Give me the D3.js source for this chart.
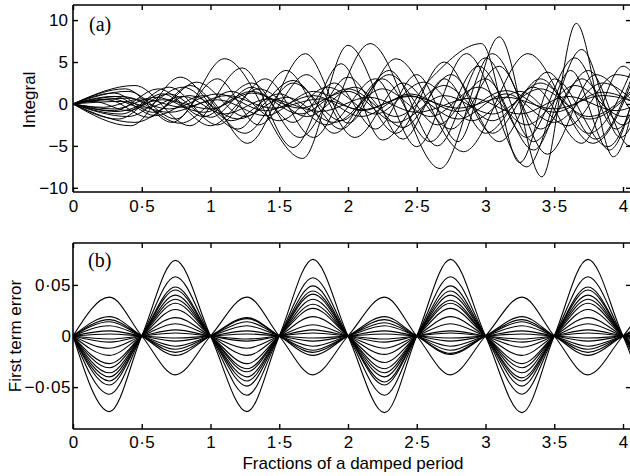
<!DOCTYPE html>
<html><head><meta charset="utf-8">
<script src="https://cdn.jsdelivr.net/npm/d3@7"></script>
<style>body{margin:0;background:#fff} svg{display:block}</style>
</head><body>
<svg id="c" width="630" height="476"></svg>
<script>
// ---------- data ----------
const xTicks = [0,0.5,1,1.5,2,2.5,3,3.5,4];
const xTickLabels = ["0","0·5","1","1·5","2","2·5","3","3·5","4"];
const yTicksA = [-10,-5,0,5,10];
const yTickLabelsA = ["−10","−5","0","5","10"];
const yTicksB = [-0.05,0,0.05];
const yTickLabelsB = ["−0·05","0","0·05"];

// panel (a): turning points [x, integral] of each run
const integralRuns = [
 [[0,0],[0.15,0.3],[0.4,-0.8],[0.7,1.2],[1.0,-1.6],[1.3,2.0],[1.6,-2.2],[1.9,2.5],[2.2,-3.0],[2.5,3.5],[2.8,-4.5],[3.1,8.0],[3.41,-8.7],[3.66,9.6],[3.93,-6.3],[4.15,6]],
 [[0,0],[0.4,1.5],[0.75,-1.8],[1.1,5.4],[1.67,-6.5],[2.0,7.0],[2.4,-4.2],[2.7,3.0],[3.0,-3.5],[3.35,2.0],[3.7,-4.7],[4.0,4.5],[4.2,-1]],
 [[0,0],[0.35,-1.2],[0.7,2.0],[1.05,-2.5],[1.4,3.0],[1.75,-4.0],[2.16,7.2],[2.67,-7.7],[3.05,6.0],[3.4,-3.0],[3.75,4.0],[4.05,-5.0],[4.25,0]],
 [[0,0],[0.3,0.9],[0.6,-1.4],[0.95,1.0],[1.27,-4.7],[1.69,6.0],[2.0,-2.3],[2.35,5.4],[2.84,-5.7],[3.31,6.0],[3.78,-4.7],[4.15,6.5]],
 [[0,0],[0.45,2.2],[0.85,-2.6],[1.23,4.3],[1.6,-5.2],[1.95,4.8],[2.25,-4.3],[2.6,3.0],[2.97,7.2],[3.25,-7.0],[3.5,3.0],[3.89,-5.1],[4.15,5]],
 [[0,0],[0.42,-2.6],[0.78,3.2],[1.15,-2.0],[1.5,1.2],[1.85,-2.5],[2.2,3.0],[2.5,-5.1],[2.86,6.0],[3.3,-7.5],[3.62,4.0],[3.9,-5.5],[4.15,6]],
 [[0,0],[0.3,-0.6],[0.6,0.8],[0.95,-1.0],[1.3,1.5],[1.65,-1.2],[2.0,1.8],[2.35,-1.5],[2.7,2.2],[3.05,-2.0],[3.4,2.5],[3.75,-1.8],[4.1,2.0]],
 [[0,0],[0.25,0.5],[0.55,-1.6],[0.85,2.2],[1.25,-3.5],[1.6,2.5],[1.95,-2.0],[2.3,3.5],[2.65,-2.5],[3.0,3.0],[3.35,-5.5],[3.7,6.5],[3.98,-4.0],[4.2,4]],
 [[0,0],[0.35,0.9],[0.7,-0.6],[1.05,1.2],[1.4,-0.8],[1.75,1.0],[2.1,-1.5],[2.45,1.2],[2.8,-0.9],[3.15,1.6],[3.5,-1.0],[3.85,1.4],[4.2,-1]],
 [[0,0],[0.4,-1.5],[0.8,2.0],[1.2,-3.0],[1.55,4.0],[1.9,-3.5],[2.25,3.0],[2.6,-4.5],[2.95,4.5],[3.3,-4.0],[3.65,5.5],[3.95,-3.0],[4.2,5]],
 [[0,0],[0.3,-0.8],[0.62,1.8],[0.95,-1.5],[1.3,2.5],[1.65,-4.0],[2.0,3.2],[2.35,-3.5],[2.7,5.0],[3.05,-3.5],[3.4,3.0],[3.75,-3.5],[4.1,5.5]],
 [[0,0],[0.38,1.8],[0.72,-2.2],[1.05,3.0],[1.35,-2.5],[1.7,3.5],[2.05,-4.0],[2.4,2.5],[2.75,-3.0],[3.1,4.5],[3.45,-6.0],[3.8,3.5],[4.1,-2]],
 [[0,0],[0.33,-1.8],[0.65,1.2],[1.0,-2.6],[1.35,1.8],[1.7,-1.5],[2.05,2.0],[2.4,-2.8],[2.75,3.5],[3.1,-4.5],[3.45,3.8],[3.8,-4.2],[4.1,4.8]],
 [[0,0],[0.28,0.6],[0.52,-0.5],[0.8,0.9],[1.1,-1.2],[1.42,0.6],[1.8,-0.9],[2.15,0.8],[2.5,-1.0],[2.9,0.7],[3.25,-1.2],[3.6,0.9],[3.95,-0.8],[4.2,1]],
 [[0,0],[0.45,-2.2],[0.85,1.0],[1.2,-1.8],[1.55,0.8],[1.9,-2.2],[2.25,1.8],[2.6,-1.5],[2.95,2.0],[3.3,-2.5],[3.65,2.2],[4.0,-1.5],[4.2,0]],
 [[0,0],[0.3,1.3],[0.58,-1.0],[0.9,2.6],[1.25,-1.5],[1.6,2.8],[1.95,-3.0],[2.3,4.0],[2.65,-5.0],[3.0,5.5],[3.35,-4.5],[3.7,3.0],[4.0,-2.5],[4.2,3]],
 [[0,0],[0.35,0.3],[0.7,-1.0],[1.05,0.5],[1.4,-1.4],[1.75,1.5],[2.1,-0.8],[2.45,1.0],[2.8,-1.8],[3.15,1.2],[3.5,-2.2],[3.85,2.5],[4.15,-1]],
 [[0,0],[0.4,0.7],[0.78,-2.3],[1.15,1.5],[1.5,-2.0],[1.85,2.0],[2.2,-1.2],[2.55,2.6],[2.9,-2.0],[3.25,1.5],[3.6,-2.6],[3.95,3.5],[4.2,2]],
 [[0,0],[0.22,-0.4],[0.5,0.6],[0.8,-0.4],[1.12,1.0],[1.45,-0.5],[1.8,0.6],[2.1,-0.7],[2.45,0.9],[2.8,-0.5],[3.15,0.8],[3.5,-0.6],[3.85,1.0],[4.2,-0.5]],
 [[0,0],[0.32,-0.9],[0.65,0.5],[1.0,-0.6],[1.3,1.3],[1.65,-0.5],[2.0,1.5],[2.35,-2.2],[2.7,1.0],[3.05,-1.2],[3.4,1.8],[3.75,-1.5],[4.1,2.2]]
];

// panel (b): zero crossings and lobe peaks
const errZeroX = [0,0.5,1,1.5,2,2.5,3,3.5,4,4.5];
const errPeakX = [0.265,0.745,1.265,1.745,2.265,2.745,3.265,3.745,4.265];
const errPeaks = [
 [-0.074,0.074,-0.074,0.075,-0.075,0.075,-0.075,0.075,-0.074],
 [-0.057,0.058,-0.058,0.057,-0.058,0.058,-0.057,0.058,-0.057],
 [-0.048,0.048,-0.049,0.049,-0.048,0.049,-0.049,0.048,-0.048],
 [-0.044,0.045,-0.044,0.044,-0.045,0.044,-0.044,0.045,-0.044],
 [-0.040,0.040,-0.040,0.041,-0.040,0.040,-0.041,0.040,-0.040],
 [-0.036,0.036,-0.035,0.036,-0.036,0.035,-0.036,0.036,-0.036],
 [-0.031,0.032,-0.032,0.031,-0.032,0.032,-0.031,0.032,-0.031],
 [-0.027,0.026,-0.027,0.027,-0.026,0.027,-0.027,0.026,-0.027],
 [-0.019,0.018,-0.019,0.019,-0.018,0.019,-0.019,0.018,-0.019],
 [-0.012,0.012,-0.012,0.011,-0.012,0.012,-0.011,0.012,-0.012],
 [-0.006,0.006,-0.005,0.006,-0.006,0.005,-0.006,0.006,-0.006],
 [-0.003,0.003,-0.003,0.003,-0.003,0.003,-0.003,0.003,-0.003],
 [0.002,-0.002,0.002,-0.002,0.002,-0.002,0.002,-0.002,0.002],
 [0.005,-0.005,0.005,-0.005,0.005,-0.005,0.005,-0.005,0.005],
 [0.010,-0.010,0.010,-0.010,0.010,-0.010,0.010,-0.010,0.010],
 [0.014,-0.013,0.014,-0.014,0.013,-0.014,0.014,-0.013,0.014],
 [0.016,-0.016,0.017,-0.016,0.016,-0.017,0.016,-0.016,0.016],
 [0.019,-0.019,0.018,-0.019,0.019,-0.018,0.019,-0.019,0.019],
 [0.038,-0.038,0.038,-0.038,0.038,-0.038,0.038,-0.038,0.038]
];

// ---------- drawing ----------
const svg = d3.select("#c");
const FONT = "'Liberation Sans', Arial, Helvetica, sans-serif";
const L = 73, R = 632;
const x = d3.scaleLinear().domain([0,4]).range([L,623]);

function styleDots(sel) {
  sel.filter(function(){ return this.textContent.includes("·"); }).attr("letter-spacing", 0.5);
}

function panel(top, bottom, ydom, yt, ytl, id, labelPad, xPad) {
  const y = d3.scaleLinear().domain(ydom).range([bottom, top]);
  svg.append("clipPath").attr("id", id).append("rect")
    .attr("x", L).attr("y", top).attr("width", R-L).attr("height", bottom-top);
  const g = svg.append("g").attr("clip-path", `url(#${id})`);
  const axB = svg.append("g").attr("transform", `translate(0,${bottom})`)
    .call(d3.axisBottom(x).tickValues(xTicks).tickFormat((d,i)=>xTickLabels[i])
      .tickSizeInner(-5).tickSizeOuter(0).tickPadding(xPad));
  const axT = svg.append("g").attr("transform", `translate(0,${top})`)
    .call(d3.axisTop(x).tickValues(xTicks).tickFormat("").tickSizeInner(-5).tickSizeOuter(0));
  const axL = svg.append("g").attr("transform", `translate(${L},0)`)
    .call(d3.axisLeft(y).tickValues(yt).tickFormat((d,i)=>ytl[i])
      .tickSizeInner(-5).tickSizeOuter(0).tickPadding(labelPad));
  const axR = svg.append("g").attr("transform", `translate(${R-1},0)`)
    .call(d3.axisRight(y).tickValues(yt).tickFormat("").tickSizeInner(-5).tickSizeOuter(0));
  [axB, axT, axL, axR].forEach(a => {
    a.select(".domain").attr("stroke", "#000").attr("stroke-width", 1.6);
    a.selectAll(".tick line").attr("stroke", "#000").attr("stroke-width", 1.4);
    a.selectAll("text").attr("font-family", FONT).attr("font-size", 17).attr("fill", "#000").call(styleDots);
  });
  [axB, axT].forEach(a => a.select(".domain").attr("d", `M${L},0H${R}`));
  axL.select(".domain").attr("d", `M0,${bottom}V${top}`);
  axR.select(".domain").attr("d", `M0,${bottom}V${top}`);
  return {y, g};
}

// panel (a)
const A = panel(5, 192, [-10.5, 11.8], yTicksA, yTickLabelsA, "clipA", 5, 8);
const lineA = d3.line().x(d => x(d[0])).y(d => A.y(d[1])).curve(d3.curveMonotoneX);
A.g.selectAll("path").data(integralRuns).join("path")
  .attr("d", lineA).attr("fill", "none").attr("stroke", "#000").attr("stroke-width", 1);

// panel (b)
const B = panel(243, 429, [-0.091, 0.091], yTicksB, yTickLabelsB, "clipB", 2, 7);
const lineB = d3.line().x(d => x(d[0])).y(d => B.y(d[1])).curve(d3.curveMonotoneX);
const errRuns = errPeaks.map(p => {
  const pts = [];
  p.forEach((v, k) => { pts.push([errZeroX[k], 0]); pts.push([errPeakX[k], v]); });
  pts.push([errZeroX[p.length], 0]);
  return pts;
});
B.g.selectAll("path").data(errRuns).join("path")
  .attr("d", lineB).attr("fill", "none").attr("stroke", "#000").attr("stroke-width", 1.1);

// panel letters
svg.append("text").attr("x", 89).attr("y", 31).text("(a)")
  .attr("font-family", "'Liberation Serif', 'Times New Roman', serif").attr("font-size", 20);
svg.append("text").attr("x", 88).attr("y", 267).text("(b)")
  .attr("font-family", "'Liberation Serif', 'Times New Roman', serif").attr("font-size", 20);

// axis titles
svg.append("text").attr("transform", "translate(35,100) rotate(-90)").attr("text-anchor", "middle")
  .attr("font-family", FONT).attr("font-size", 17).text("Integral");
svg.append("text").attr("transform", "translate(21,336) rotate(-90)").attr("text-anchor", "middle")
  .attr("font-family", FONT).attr("font-size", 17).text("First term error");
svg.append("text").attr("x", 353).attr("y", 469).attr("text-anchor", "middle")
  .attr("font-family", FONT).attr("font-size", 17).text("Fractions of a damped period");
</script>
</body></html>
